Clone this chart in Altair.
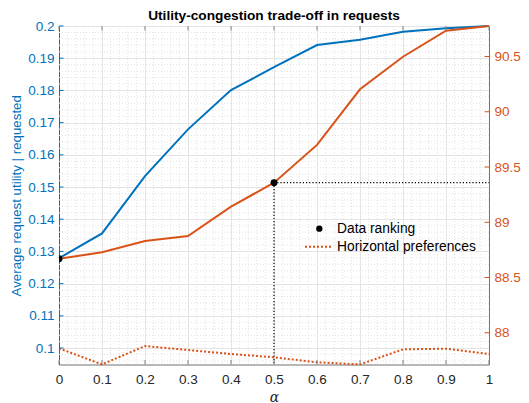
import altair as alt
import pandas as pd
import numpy as np

# ---------------- data ----------------
alpha = [0.0, 0.1, 0.2, 0.3, 0.4, 0.5, 0.6, 0.7, 0.8, 0.9, 1.0]
utility = [0.1279, 0.1356, 0.1534, 0.1679, 0.1801, 0.1872, 0.1941, 0.1957, 0.1982, 0.1993, 0.2000]
congestion = [88.670, 88.728, 88.830, 88.876, 89.141, 89.358, 89.700, 90.203, 90.498, 90.734, 90.776]
horizontal = [87.859, 87.714, 87.880, 87.844, 87.808, 87.778, 87.733, 87.714, 87.850, 87.856, 87.808]
ranking_alpha = [0.0, 0.5]
ranking_value = [88.670, 89.358]

x_ticks = [0.0, 0.1, 0.2, 0.3, 0.4, 0.5, 0.6, 0.7, 0.8, 0.9, 1.0]
left_ticks = [0.10, 0.11, 0.12, 0.13, 0.14, 0.15, 0.16, 0.17, 0.18, 0.19, 0.20]
right_ticks = [88.0, 88.5, 89.0, 89.5, 90.0, 90.5]
left_domain = [0.0949, 0.2]
right_domain = [87.713, 90.776]

title_text = ["Utility-congestion trade-off in requests"]
left_title = "Average request utility | requested"
legend_labels = ["Data ranking", "Horizontal preferences"]

# ---------------- style ----------------
W, H = 430, 338.5
FONT = "Liberation Sans"
BLUE = "#0072BD"
ORANGE = "#D95319"
DARK = "#262626"
BOX = "#808080"
GRID = "#e4e4e4"
MINOR = "#e2e2e2"

df = pd.DataFrame({"alpha": alpha, "utility": utility,
                   "congestion": congestion, "horizontal": horizontal})

xscale = alt.Scale(domain=[0, 1], nice=False, zero=False)
yl_scale = alt.Scale(domain=left_domain, nice=False, zero=False)
yr_scale = alt.Scale(domain=right_domain, nice=False, zero=False)

xaxis = alt.Axis(values=x_ticks, format="~g", grid=True, gridColor=GRID, gridWidth=1,
                 tickSize=0, domainColor=BOX, domainWidth=1,
                 labelColor=DARK, labelFont=FONT, labelFontSize=13.5, labelPadding=8,
                 labelFlush=False, labelOverlap=False,
                 title="α", titleFont="DejaVu Serif", titleFontStyle="italic",
                 titleFontWeight="normal", titleFontSize=14, titleColor=DARK, titlePadding=4)


def X():
    return alt.X("alpha:Q", scale=xscale, axis=xaxis)


left_axis = alt.Axis(orient="left", values=left_ticks, format="~g", grid=True,
                     gridColor=GRID, gridWidth=1, tickSize=0,
                     domainColor=BLUE, domainWidth=1, labelColor=BLUE, labelFont=FONT,
                     labelFontSize=13.5, labelPadding=5, labelFlush=False, labelOverlap=False,
                     title=left_title, titleColor=BLUE, titleFont=FONT, titleFontSize=13.3,
                     titleFontWeight="normal", titlePadding=4)
right_axis = alt.Axis(orient="right", values=right_ticks, format="~g", grid=False,
                      tickSize=0, domainColor=ORANGE, domainWidth=1,
                      labelColor=ORANGE, labelFont=FONT, labelFontSize=13.5,
                      labelPadding=5, labelFlush=False, labelOverlap=False, title=None)

# minor grid positions
x_minor = [round(v, 2) for v in np.arange(0.02, 1.0, 0.02) if abs(v * 10 - round(v * 10)) > 1e-6]
y_minor = [round(v, 3) for v in np.arange(0.096, 0.2, 0.002) if abs(v * 100 - round(v * 100)) > 1e-6]

minor_x = alt.Chart(pd.DataFrame({"alpha": x_minor})).mark_rule(
    color=MINOR, strokeWidth=1, strokeDash=[1, 2]).encode(
    x=X(), y=alt.value(0), y2=alt.value(H))

minor_y = alt.Chart(pd.DataFrame({"u": y_minor})).mark_rule(
    color=MINOR, strokeWidth=1, strokeDash=[1, 2]).encode(
    y=alt.Y("u:Q", scale=yl_scale, axis=None), x=alt.value(0), x2=alt.value(W))

blue_line = alt.Chart(df).mark_line(color=BLUE, strokeWidth=2).encode(
    x=X(), y=alt.Y("utility:Q", scale=yl_scale, axis=left_axis))

orange_line = alt.Chart(df).mark_line(color=ORANGE, strokeWidth=2).encode(
    x=X(), y=alt.Y("congestion:Q", scale=yr_scale, axis=right_axis))

dotted_line = alt.Chart(df).mark_line(color=ORANGE, strokeWidth=2, strokeDash=[2, 2]).encode(
    x=X(), y=alt.Y("horizontal:Q", scale=yr_scale, axis=None))

sel = pd.DataFrame({"alpha": [ranking_alpha[1]], "alpha2": [1.0], "val": [ranking_value[1]]})
guide_h = alt.Chart(sel).mark_rule(color="black", strokeWidth=1.2, strokeDash=[1.2, 2]).encode(
    x=X(), x2="alpha2:Q", y=alt.Y("val:Q", scale=yr_scale, axis=None))
guide_v = alt.Chart(sel).mark_rule(color="black", strokeWidth=1.2, strokeDash=[1.2, 2]).encode(
    x=X(), y=alt.Y("val:Q", scale=yr_scale, axis=None), y2=alt.value(H))

points = alt.Chart(pd.DataFrame({"alpha": ranking_alpha, "val": ranking_value})).mark_point(
    filled=True, color="black", size=48, opacity=1, clip=True).encode(
    x=X(), y=alt.Y("val:Q", scale=yr_scale, axis=None))

# inward ticks
tick_len = 4.5
ticks_left = alt.Chart(pd.DataFrame({"u": left_ticks})).mark_rule(color=BLUE, strokeWidth=1).encode(
    y=alt.Y("u:Q", scale=yl_scale, axis=None), x=alt.value(0), x2=alt.value(tick_len))
ticks_right = alt.Chart(pd.DataFrame({"r": right_ticks})).mark_rule(color=ORANGE, strokeWidth=1).encode(
    y=alt.Y("r:Q", scale=yr_scale, axis=None), x=alt.value(W - tick_len), x2=alt.value(W))
ticks_bottom = alt.Chart(pd.DataFrame({"alpha": x_ticks})).mark_rule(color=BOX, strokeWidth=1).encode(
    x=X(), y=alt.value(H - tick_len), y2=alt.value(H))
ticks_top = alt.Chart(pd.DataFrame({"alpha": x_ticks})).mark_rule(color=BOX, strokeWidth=1).encode(
    x=X(), y=alt.value(0), y2=alt.value(tick_len))

# legend (no box)
leg_dot = alt.Chart(pd.DataFrame({"k": [0]})).mark_point(
    filled=True, color="black", size=40, opacity=1).encode(
    x=alt.value(260.3), y=alt.value(202.7))
leg_line = alt.Chart(pd.DataFrame({"k": [0]})).mark_rule(
    color=ORANGE, strokeWidth=2, strokeDash=[2, 2]).encode(
    x=alt.value(246), x2=alt.value(274), y=alt.value(220.7))
leg_text = alt.Chart(pd.DataFrame({"label": legend_labels, "i": [0, 1]})).mark_text(
    align="left", baseline="middle", font=FONT, fontSize=13.8, color="black").encode(
    x=alt.value(278),
    y=alt.Y("i:Q", scale=alt.Scale(domain=[0, 1], range=[202.7, 220.7]), axis=None),
    text="label:N")

# chart title as a text mark above the plot area
title_mark = alt.Chart(pd.DataFrame({"t": title_text})).mark_text(
    align="center", baseline="alphabetic", font=FONT, fontSize=13.7, fontWeight="bold",
    color="black").encode(x=alt.value(W / 2), y=alt.value(-6.5), text="t:N")

chart = alt.layer(
    minor_x, minor_y, blue_line, orange_line, dotted_line, guide_h, guide_v,
    ticks_left, ticks_right, ticks_bottom, ticks_top, points,
    leg_dot, leg_line, leg_text, title_mark
).resolve_scale(y="independent").properties(
    width=W, height=H,
    autosize=alt.AutoSizeParams(type="none"),
    padding={"left": 51, "top": 18, "right": 32, "bottom": 38.5},
).configure_view(stroke=BOX, strokeWidth=1).configure(background="white")

chart.save("out.html", embed_options={"renderer": "svg", "actions": False})
